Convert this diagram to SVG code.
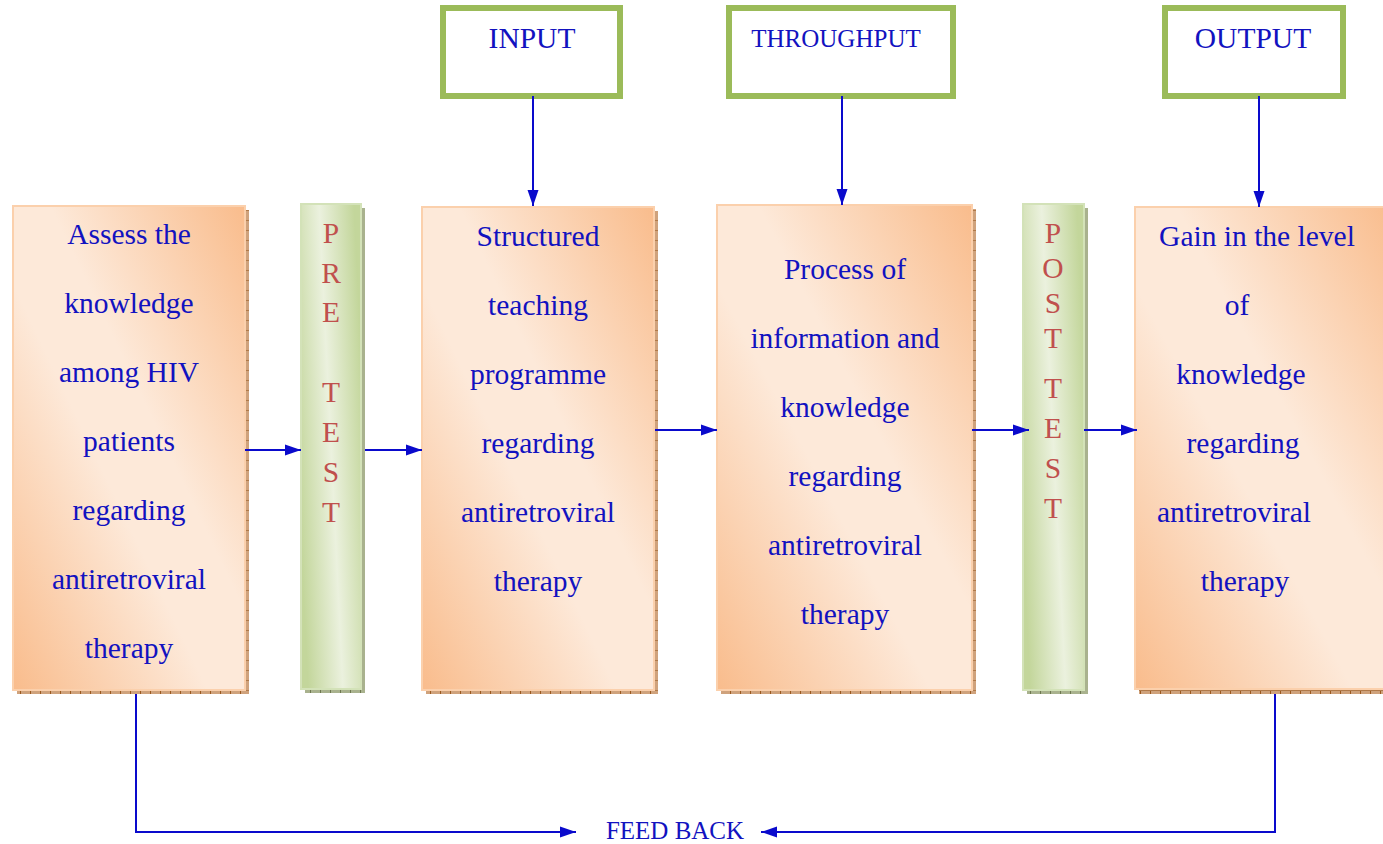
<svg xmlns="http://www.w3.org/2000/svg" width="1383" height="844" viewBox="0 0 1383 844">
<style>
.t{font-family:"Liberation Serif","Times New Roman",serif;font-size:29.5px;fill:#1212C0;text-anchor:middle}
.h{font-family:"Liberation Serif","Times New Roman",serif;fill:#1212C0;text-anchor:middle}
.r{font-family:"Liberation Serif","Times New Roman",serif;font-size:29.5px;fill:#C0504D;text-anchor:middle}
.ob{fill:url(#og);stroke:#FBD0AC;stroke-width:2}
.gb{fill:url(#gg);stroke:#D3E2B8;stroke-width:2}
.os{fill:url(#op)}
.gs{fill:url(#gp)}
.tb{fill:#fff;stroke:#9BBB59;stroke-width:6}
.c{fill:none;stroke:#0A0ACC;stroke-width:2}
</style>
<defs>
<linearGradient id="og" x1="0" y1="1" x2="1" y2="0">
<stop offset="0" stop-color="#F9BC8C"/>
<stop offset="0.42" stop-color="#FDE9D9"/>
<stop offset="0.58" stop-color="#FDE9D9"/>
<stop offset="1" stop-color="#F9BC8C"/>
</linearGradient>
<linearGradient id="gg" x1="0" y1="0.7" x2="1" y2="0.3">
<stop offset="0" stop-color="#C3D69B"/>
<stop offset="0.5" stop-color="#EBF1DE"/>
<stop offset="1" stop-color="#C3D69B"/>
</linearGradient>
<pattern id="op" width="10" height="10" patternUnits="userSpaceOnUse">
<rect width="10" height="10" fill="#CFA27C"/>
<rect width="1" height="10" fill="#9C5A20"/>
<rect y="0" width="10" height="1" fill="#B07A4A"/>
</pattern>
<pattern id="gp" width="10" height="10" patternUnits="userSpaceOnUse">
<rect width="10" height="10" fill="#A9B28E"/>
<rect width="1" height="10" fill="#6E7850"/>
</pattern>
<marker id="a" markerWidth="16" markerHeight="12" refX="16" refY="6" orient="auto" markerUnits="userSpaceOnUse">
<path d="M0,0.5 L16,6 L0,11.5 z" fill="#0A0ACC"/>
</marker>
</defs>

<g id="input">
<rect class="tb" x="443" y="8" width="177" height="88"/>
<text class="h" x="532" y="48" font-size="29.5">INPUT</text>
</g>
<g id="throughput">
<rect class="tb" x="729" y="8" width="224" height="88"/>
<text class="h" x="836" y="47" font-size="25">THROUGHPUT</text>
</g>
<g id="output">
<rect class="tb" x="1165" y="8" width="178" height="88"/>
<text class="h" x="1253" y="48" font-size="29.5">OUTPUT</text>
</g>

<g id="assess">
<rect class="os" x="17" y="210" width="232" height="484"/>
<rect class="ob" x="13" y="206" width="232" height="484"/>
<text class="t" x="129" y="244">Assess the</text>
<text class="t" x="129" y="313">knowledge</text>
<text class="t" x="129" y="382">among HIV</text>
<text class="t" x="129" y="451">patients</text>
<text class="t" x="129" y="520">regarding</text>
<text class="t" x="129" y="589">antiretroviral</text>
<text class="t" x="129" y="658">therapy</text>
</g>

<g id="pretest">
<rect class="gs" x="305" y="208" width="60" height="485"/>
<rect class="gb" x="301" y="204" width="60" height="485"/>
<text class="r" x="331" y="243">P</text>
<text class="r" x="331" y="283">R</text>
<text class="r" x="331" y="322">E</text>
<text class="r" x="331" y="402">T</text>
<text class="r" x="331" y="442">E</text>
<text class="r" x="331" y="482">S</text>
<text class="r" x="331" y="522">T</text>
</g>

<g id="structured">
<rect class="os" x="426" y="211" width="232" height="483"/>
<rect class="ob" x="422" y="207" width="232" height="483"/>
<text class="t" x="538" y="246">Structured</text>
<text class="t" x="538" y="315">teaching</text>
<text class="t" x="538" y="384">programme</text>
<text class="t" x="538" y="453">regarding</text>
<text class="t" x="538" y="522">antiretroviral</text>
<text class="t" x="538" y="591">therapy</text>
</g>

<g id="process">
<rect class="os" x="721" y="209" width="255" height="485"/>
<rect class="ob" x="717" y="205" width="255" height="485"/>
<text class="t" x="845" y="279">Process of</text>
<text class="t" x="845" y="348">information and</text>
<text class="t" x="845" y="417">knowledge</text>
<text class="t" x="845" y="486">regarding</text>
<text class="t" x="845" y="555">antiretroviral</text>
<text class="t" x="845" y="624">therapy</text>
</g>

<g id="posttest">
<rect class="gs" x="1027" y="208" width="61" height="486"/>
<rect class="gb" x="1023" y="204" width="61" height="486"/>
<text class="r" x="1053" y="243">P</text>
<text class="r" x="1053" y="278">O</text>
<text class="r" x="1053" y="313">S</text>
<text class="r" x="1053" y="348">T</text>
<text class="r" x="1053" y="398">T</text>
<text class="r" x="1053" y="438">E</text>
<text class="r" x="1053" y="478">S</text>
<text class="r" x="1053" y="518">T</text>
</g>

<g id="gain">
<rect class="os" x="1139" y="211" width="260" height="483"/>
<rect class="ob" x="1135" y="207" width="260" height="482"/>
<text class="t" x="1257" y="246">Gain in the level</text>
<text class="t" x="1237" y="315">of</text>
<text class="t" x="1241" y="384">knowledge</text>
<text class="t" x="1243" y="453">regarding</text>
<text class="t" x="1234" y="522">antiretroviral</text>
<text class="t" x="1245" y="591">therapy</text>
</g>

<g id="feedback">
<text class="h" x="675" y="839" font-size="25">FEED BACK</text>
</g>

<g id="connectors">
<line class="c" x1="533" y1="96" x2="533" y2="206" marker-end="url(#a)"/>
<line class="c" x1="842" y1="96" x2="842" y2="205" marker-end="url(#a)"/>
<line class="c" x1="1259" y1="96" x2="1259" y2="207" marker-end="url(#a)"/>
<line class="c" x1="245" y1="450" x2="301" y2="450" marker-end="url(#a)"/>
<line class="c" x1="365" y1="450" x2="422" y2="450" marker-end="url(#a)"/>
<line class="c" x1="655" y1="430" x2="717" y2="430" marker-end="url(#a)"/>
<line class="c" x1="972" y1="430" x2="1029" y2="430" marker-end="url(#a)"/>
<line class="c" x1="1084" y1="430" x2="1137" y2="430" marker-end="url(#a)"/>
<polyline class="c" points="136,694 136,832 576,832" marker-end="url(#a)"/>
<polyline class="c" points="1275,694 1275,832 761,832" marker-end="url(#a)"/>
</g>
</svg>
